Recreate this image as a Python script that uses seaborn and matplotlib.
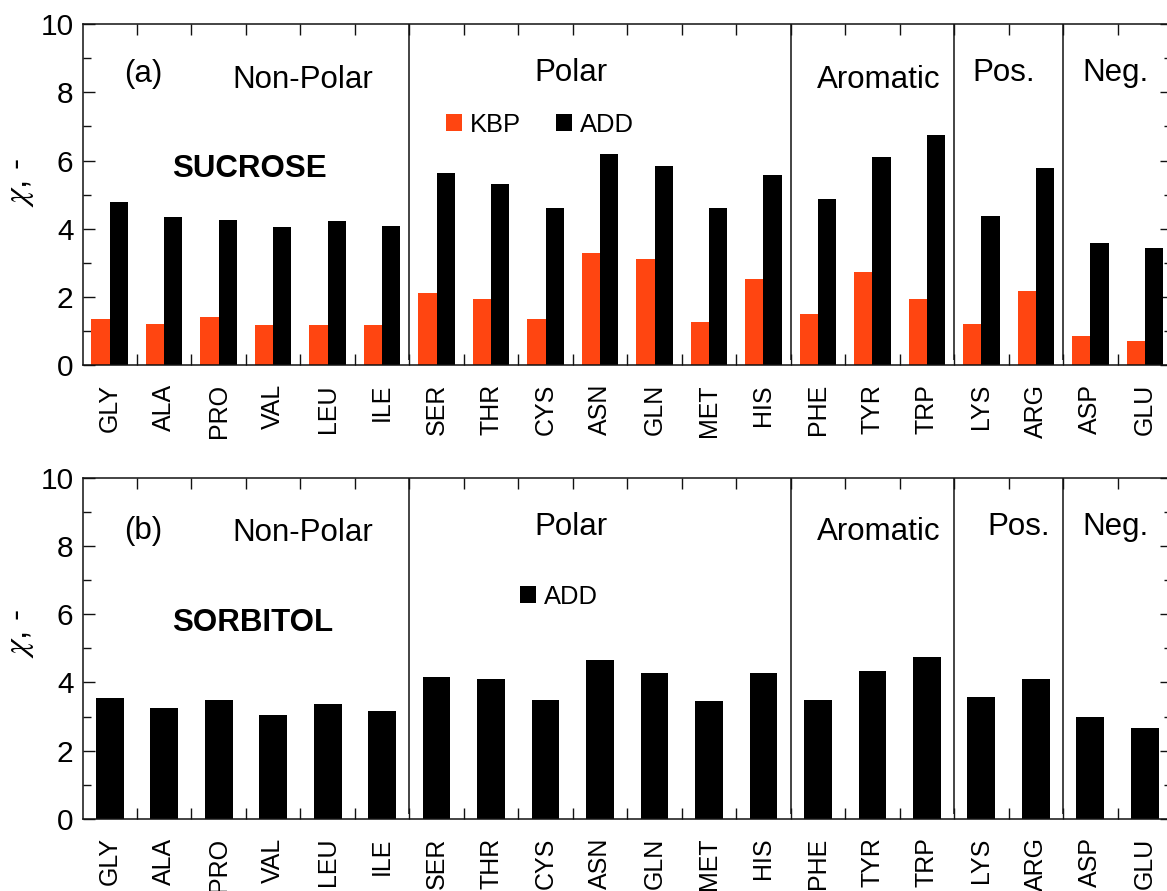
import matplotlib
import numpy as np
import pandas as pd
import seaborn as sns

matplotlib.use("Agg")
import matplotlib.pyplot as plt
from matplotlib.ticker import MultipleLocator

residues = ["GLY", "ALA", "PRO", "VAL", "LEU", "ILE",
            "SER", "THR", "CYS", "ASN", "GLN", "MET", "HIS",
            "PHE", "TYR", "TRP", "LYS", "ARG", "ASP", "GLU"]
sucrose_kbp = [1.36, 1.21, 1.42, 1.18, 1.18, 1.18,
               2.12, 1.94, 1.36, 3.29, 3.11, 1.27, 2.53,
               1.50, 2.73, 1.94, 1.21, 2.18, 0.86, 0.71]
sucrose_add = [4.80, 4.35, 4.26, 4.05, 4.24, 4.08,
               5.63, 5.32, 4.61, 6.18, 5.84, 4.62, 5.57,
               4.88, 6.10, 6.75, 4.37, 5.79, 3.58, 3.45]
sorbitol_add = [3.55, 3.26, 3.49, 3.04, 3.37, 3.16,
                4.16, 4.11, 3.48, 4.67, 4.28, 3.45, 4.28,
                3.48, 4.34, 4.75, 3.57, 4.10, 2.99, 2.67]
group_names = ["Non-Polar", "Polar", "Aromatic", "Pos.", "Neg."]
group_sizes = [6, 7, 3, 2, 2]

RED = "#ff4511"
INK = "#111111"

sns.set_style("ticks")
plt.rcParams["font.family"] = ["Liberation Sans", "DejaVu Sans"]
plt.rcParams["mathtext.fontset"] = "stix"
plt.rcParams["text.color"] = "black"
plt.rcParams["axes.labelcolor"] = "black"
plt.rcParams["xtick.labelcolor"] = "black"
plt.rcParams["ytick.labelcolor"] = "black"

fig = plt.figure(figsize=(11.67, 8.91), dpi=100)
ax_top = fig.add_axes([0.0707, 0.590, 0.9336, 0.383])
ax_bot = fig.add_axes([0.0707, 0.0811, 0.9336, 0.3824])

top_df = pd.DataFrame({
    "residue": residues * 2,
    "chi": sucrose_kbp + sucrose_add,
    "model": ["KBP"] * len(residues) + ["ADD"] * len(residues),
})
bot_df = pd.DataFrame({"residue": residues, "chi": sorbitol_add, "model": "ADD"})

sns.barplot(data=top_df, x="residue", y="chi", hue="model", order=residues,
            hue_order=["KBP", "ADD"], palette={"KBP": RED, "ADD": "black"},
            width=0.67, saturation=1, linewidth=0, ax=ax_top)
sns.barplot(data=bot_df, x="residue", y="chi", hue="model", order=residues,
            palette={"ADD": "black"}, width=0.51, saturation=1, linewidth=0,
            ax=ax_bot)

bounds = np.cumsum(group_sizes)[:-1] - 0.5

panels = [
    (ax_top, "(a)", "SUCROSE", (2.57, 5.53), (0.42, 0.705), 0.536,
     [(3.54, 8.14), (8.47, 8.33), (14.12, 8.14), (16.41, 8.33), (18.46, 8.33)],
     (0.61, 8.31)),
    (ax_bot, "(b)", "SORBITOL", (2.62, 5.51), (0.437, 0.652), 0.545,
     [(3.54, 8.16), (8.47, 8.33), (14.12, 8.18), (16.69, 8.33), (18.46, 8.33)],
     (0.61, 8.20)),
]

for ax, tag, solute, solute_xy, leg_xy, ylab_y, group_xy, tag_xy in panels:
    ax.set_xlim(-0.5, len(residues) - 0.5)
    ax.set_ylim(0, 10)
    ax.set_xlabel("")
    ax.set_ylabel(r"$\chi$, -", fontsize=24)
    ax.yaxis.set_label_coords(-0.043, ylab_y)

    ax.set_xticks(range(len(residues)))
    ax.set_xticklabels(residues, rotation=90, va="top", fontsize=18)
    ax.set_xticks(np.arange(0.5, len(residues) - 0.5, 1), minor=True)
    ax.tick_params(axis="x", which="major", length=0, pad=13.5)
    ax.tick_params(axis="x", which="minor", direction="in", length=8,
                   width=1, top=True, bottom=True, color=INK)

    ax.yaxis.set_major_locator(MultipleLocator(2))
    ax.yaxis.set_minor_locator(MultipleLocator(1))
    ax.tick_params(axis="y", which="major", direction="in", length=8.5,
                   width=1, left=True, right=True, labelsize=21.5, pad=6.5,
                   color=INK)
    ax.tick_params(axis="y", which="minor", direction="in", length=5.5,
                   width=1, left=True, right=True, color=INK)

    for side in ["left", "right", "top", "bottom"]:
        ax.spines[side].set_visible(True)
        ax.spines[side].set_linewidth(1.1)
        ax.spines[side].set_color(INK)

    ax.vlines(bounds, 0.15, 10, color=INK, linewidth=1.1)

    ax.text(*tag_xy, tag, fontsize=22.5, ha="center", va="baseline")
    for name, (gx, gy) in zip(group_names, group_xy):
        ax.text(gx, gy, name, fontsize=22.5, ha="center", va="baseline")
    ax.text(*solute_xy, solute, fontsize=22.5, fontweight="bold",
            ha="center", va="baseline")

    sns.move_legend(ax, loc="center", bbox_to_anchor=leg_xy, ncol=2,
                    frameon=False, title=None, fontsize=18.4,
                    handlelength=0.63, handleheight=0.63,
                    handletextpad=0.31, columnspacing=1.37)

fig.savefig("out.png", dpi=100)
plt.close(fig)
